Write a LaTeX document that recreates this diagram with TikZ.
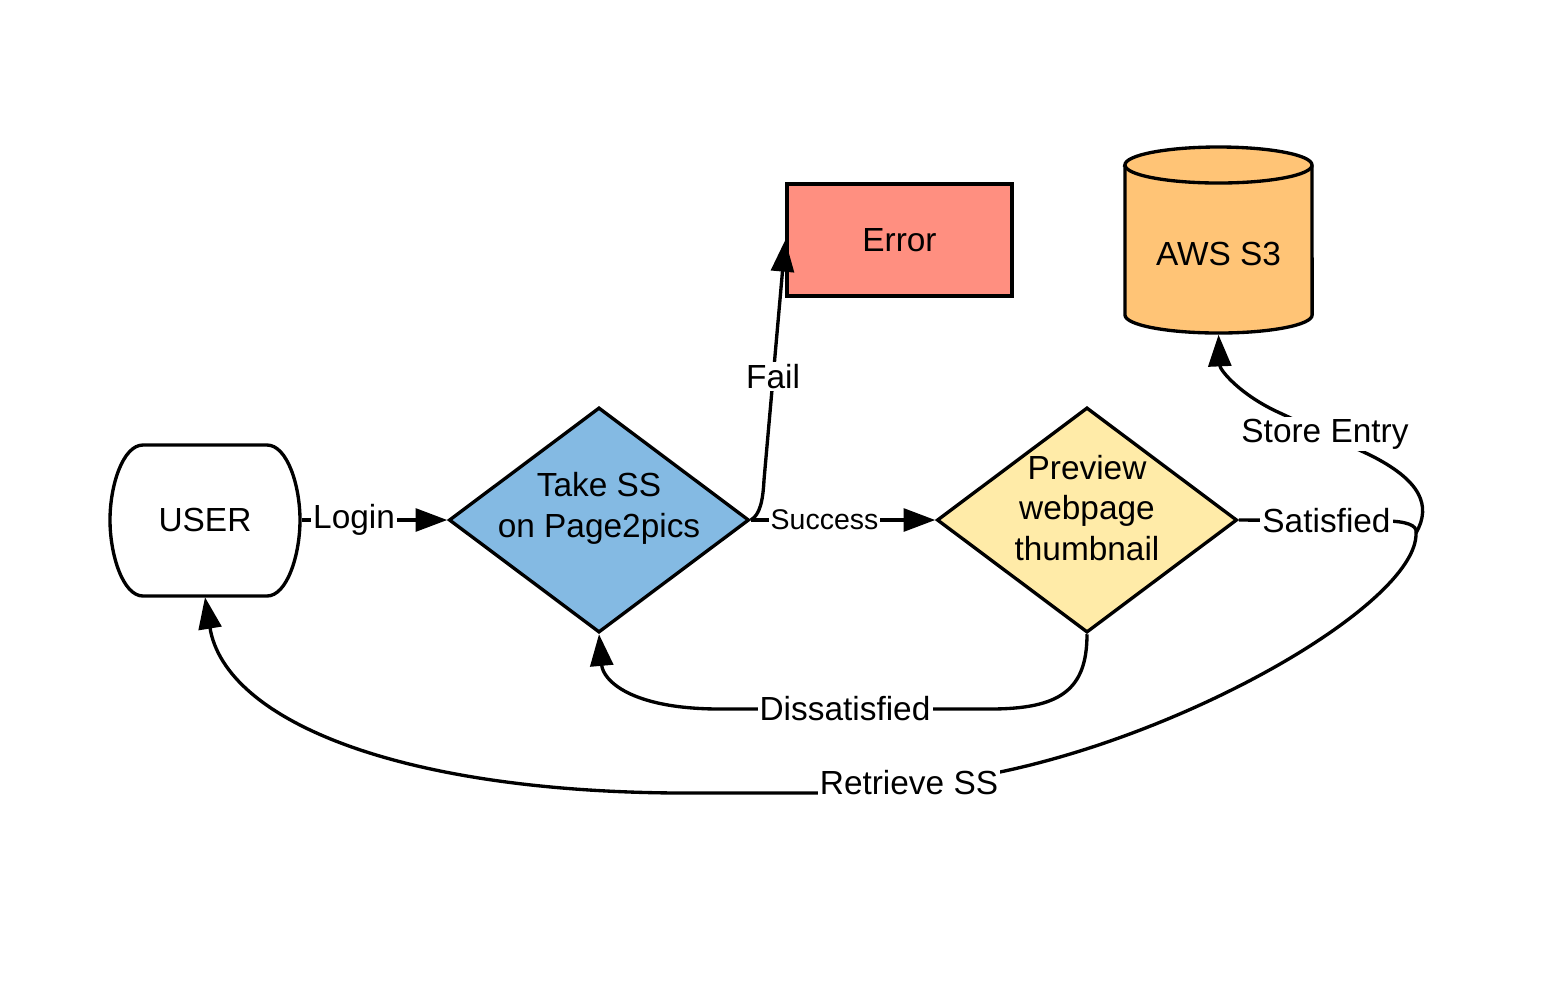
\documentclass[tikz,border=0pt]{standalone}
\usepackage{fontspec}
\setmainfont{Liberation Sans}
\usetikzlibrary{shapes.geometric, arrows.meta}
\definecolor{takeblue}{RGB}{132,186,227}
\definecolor{prevyellow}{RGB}{255,235,168}
\definecolor{errred}{RGB}{255,143,128}
\definecolor{sorange}{RGB}{255,196,118}
\begin{document}
\begin{tikzpicture}[x=0.01cm, y=0.01cm, line width=0.95pt,
  txt/.style={font=\fontsize{9.5}{11.6}\selectfont, align=center, inner sep=0pt},
  dec/.style={draw, diamond, minimum width=3cm, minimum height=2.25cm, inner sep=0pt},
  lbl/.style={txt, fill=white, inner sep=0.6pt},
  arr/.style={-{Triangle[length=9pt,width=6.5pt]}}]
\useasboundingbox (0,0) rectangle (1560,-990);
\draw (143,-445) -- (267,-445) .. controls (287,-445) and (300,-485) .. (300,-520)
  .. controls (300,-555) and (287,-596) .. (267,-596) -- (143,-596)
  .. controls (123,-596) and (110,-555) .. (110,-520) .. controls (110,-485) and (123,-445) .. cycle;
\node[txt, minimum width=1.9cm, minimum height=1.51cm] (user) at (205,-520) {USER};
\node[dec, fill=takeblue] (take) at (599,-520) {};
\node[txt] (takelbl) at (599,-508) {Take SS\\on Page2pics};
\node[dec, fill=prevyellow] (preview) at (1087,-520) {};
\node[txt] (prevlbl) at (1087,-508) {Preview\\webpage\\thumbnail};
\node[txt, draw, fill=errred, minimum width=2.25cm, minimum height=1.12cm] (err) at (899.5,-240) {Error};
\draw[fill=sorange] (1125,-165) -- (1125,-315) arc[start angle=180, end angle=360, x radius=0.935cm, y radius=0.18cm]
  -- (1312,-165) arc[start angle=0, end angle=180, x radius=0.935cm, y radius=0.18cm] -- cycle;
\draw (1125,-165) arc[start angle=180, end angle=360, x radius=0.935cm, y radius=0.18cm];
\node[txt, minimum width=1.87cm, minimum height=1.58cm] (s3) at (1218.5,-254) {AWS S3};
\coordinate (sat) at (1416,-533);
\draw[arr] (user.east) -- node[lbl, pos=0.36]{Login} (take.west);
\draw[arr] (take.east) -- node[lbl, pos=0.4, font=\fontsize{8.1}{10}\selectfont]{Success} (preview.west);
\draw[arr] (take.east) .. controls (760,-515) and (763,-500) .. (764,-480) -- node[lbl, pos=0.43]{Fail} (err.west);
\draw[arr] (preview.south) .. controls (1087,-690) and (1060,-709) .. (990,-709)
  -- node[lbl, pos=0.537]{Dissatisfied} (720,-709) .. controls (630,-709) and (603,-680) .. (take.south);
\draw (preview.east) -- node[lbl, pos=0.6]{Satisfied} (1385,-521) .. controls (1405,-521) and (1418,-525) .. (sat);
\draw[arr] (sat) .. controls (1432,-505) and (1420,-480) .. (1370,-455)
  -- node[lbl]{Store Entry} (1280,-413) .. controls (1240,-395) and (1220,-370) .. (s3.south);
\draw[arr] (sat) .. controls (1418,-600) and (1200,-730) .. (1000,-772)
  -- node[lbl]{Retrieve SS} (818,-793) -- (700,-793) .. controls (400,-795) and (225,-720) .. (user.south);
\end{tikzpicture}
\end{document}
